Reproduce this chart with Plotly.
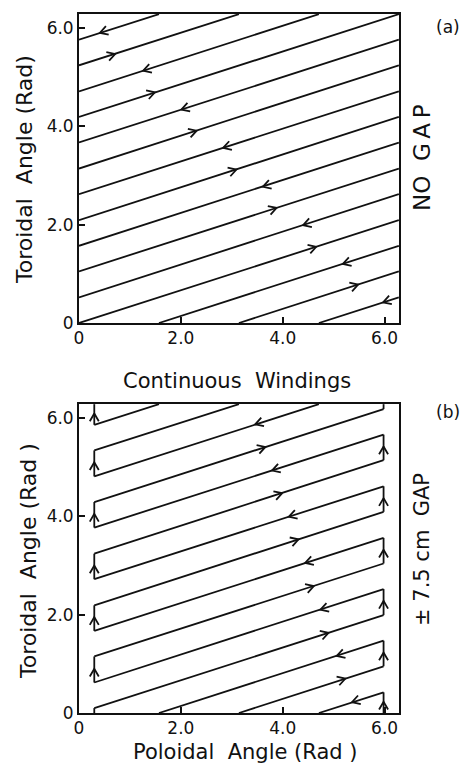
import math
import plotly.graph_objects as go

# ---------------- data (radians) ----------------
TICK_VALS = [0, 2, 4, 6]
TICK_TEXT = ["0", "2.0", "4.0", "6.0"]
AXIS_MAX = 6.283          # both axes run 0 .. 2*pi
WINDING_SLOPE = 1 / 3     # toroidal rise per poloidal radian

# Panel (a) "NO GAP": straight winding segments (poloidal, toroidal) start -> end
a_th0 = [4.71, 3.14, 1.57, 0.00, 0.00, 0.00, 0.00, 0.00, 0.00, 0.00, 0.00, 0.00, 0.00, 0.00, 0.00]
a_ph0 = [0.00, 0.00, 0.00, 0.00, 0.52, 1.05, 1.57, 2.09, 2.62, 3.14, 3.67, 4.19, 4.71, 5.24, 5.76]
a_th1 = [6.28, 6.28, 6.28, 6.28, 6.28, 6.28, 6.28, 6.28, 6.28, 6.28, 6.28, 6.28, 4.71, 3.14, 1.57]
a_ph1 = [0.52, 1.05, 1.57, 2.09, 2.62, 3.14, 3.67, 4.19, 4.71, 5.24, 5.76, 6.28, 6.28, 6.28, 6.28]

# Panel (a) current-direction arrows
a_arr_th = [0.41, 0.71, 1.26, 1.49, 2.01, 2.31, 2.83, 3.09, 3.61, 3.88, 4.40, 4.66, 5.18, 5.48, 5.97]
a_arr_ph = [5.90, 5.47, 5.13, 4.69, 4.34, 3.91, 3.56, 3.12, 2.77, 2.34, 1.99, 1.55, 1.20, 0.78, 0.42]
a_arr_dir = ["left", "right", "left", "right", "left", "right", "left", "right",
             "left", "right", "left", "right", "left", "right", "left"]

# Panel (b) "+/- 7.5 cm GAP": diagonal segments
b_th0 = [4.71, 3.14, 1.57, 0.30, 0.30, 0.30, 0.30, 0.30, 0.30, 0.30, 0.30, 0.30, 0.30, 0.30, 0.30]
b_ph0 = [0.00, 0.00, 0.00, 0.10, 0.62, 1.15, 1.67, 2.19, 2.72, 3.24, 3.77, 4.29, 4.81, 5.34, 5.86]
b_th1 = [5.98, 5.98, 5.98, 5.98, 5.98, 5.98, 5.98, 5.98, 5.98, 5.98, 5.98, 5.98, 4.71, 3.14, 1.57]
b_ph1 = [0.42, 0.95, 1.47, 1.99, 2.52, 3.04, 3.56, 4.09, 4.61, 5.14, 5.66, 6.18, 6.28, 6.28, 6.28]

# Panel (b) vertical connectors at the gap edges
b_left_th = 0.30
b_left_ph0 = [0.00, 0.62, 1.67, 2.72, 3.77, 4.81, 5.86]
b_left_ph1 = [0.10, 1.15, 2.19, 3.24, 4.29, 5.34, 6.28]
b_right_th = 5.98
b_right_ph0 = [0.00, 0.95, 1.99, 3.04, 4.09, 5.14, 6.18]
b_right_ph1 = [0.42, 1.47, 2.52, 3.56, 4.61, 5.66, 6.28]

# Panel (b) arrows
b_arr_th = [3.46, 3.66, 3.79, 3.99, 4.12, 4.31, 4.44, 4.61, 4.74, 4.90, 5.06, 5.23, 5.36,
            0.30, 0.30, 0.30, 0.30, 0.30, 0.30,
            5.98, 5.98, 5.98, 5.98, 5.98, 5.98]
b_arr_ph = [5.87, 5.41, 4.93, 4.47, 3.99, 3.53, 3.05, 2.58, 2.10, 1.63, 1.16, 0.70, 0.22,
            6.09, 5.10, 4.05, 3.00, 1.95, 0.90,
            5.42, 4.37, 3.32, 2.28, 1.23, 0.23]
b_arr_dir = ["left", "right", "left", "right", "left", "right", "left", "right", "left",
             "right", "left", "right", "left",
             "up", "up", "up", "up", "up", "up",
             "up", "up", "up", "up", "up", "up"]

# ---------------- styling / helpers ----------------
INK = "#111111"
FONT = "DejaVu Sans"
PLOT_W, PLOT_H = 320, 309
SX = PLOT_W / AXIS_MAX
SY = PLOT_H / AXIS_MAX


def seg_path(x0, y0, x1, y1):
    xs, ys = [], []
    for a, b, c, d in zip(x0, y0, x1, y1):
        xs += [a, c, None]
        ys += [b, d, None]
    return xs, ys


def dir_angle(d):
    slope_ang = math.degrees(math.atan2(WINDING_SLOPE * SY, SX))
    return {"right": slope_ang, "left": slope_ang + 180, "up": 90}[d]


def chevrons(ths, phs, dirs, arm=9, spread=30):
    xs, ys = [], []
    for th, ph, d in zip(ths, phs, dirs):
        ang = dir_angle(d)
        pts = []
        for s in (1, -1):
            a = math.radians(ang + 180 + s * spread)
            pts.append((th + arm * math.cos(a) / SX, ph + arm * math.sin(a) / SY))
        xs += [pts[0][0], th, pts[1][0], None]
        ys += [pts[0][1], ph, pts[1][1], None]
    return xs, ys


fig = go.Figure()
line_style = dict(color=INK, width=1.8)

# panel (a)
x, y = seg_path(a_th0, a_ph0, a_th1, a_ph1)
fig.add_trace(go.Scatter(x=x, y=y, mode="lines", line=line_style, xaxis="x", yaxis="y",
                         hoverinfo="skip", showlegend=False))
x, y = chevrons(a_arr_th, a_arr_ph, a_arr_dir)
fig.add_trace(go.Scatter(x=x, y=y, mode="lines", line=line_style, xaxis="x", yaxis="y",
                         hoverinfo="skip", showlegend=False))

# panel (b)
x, y = seg_path(b_th0, b_ph0, b_th1, b_ph1)
fig.add_trace(go.Scatter(x=x, y=y, mode="lines", line=line_style, xaxis="x2", yaxis="y2",
                         hoverinfo="skip", showlegend=False))
x, y = seg_path([b_left_th] * len(b_left_ph0), b_left_ph0, [b_left_th] * len(b_left_ph1), b_left_ph1)
fig.add_trace(go.Scatter(x=x, y=y, mode="lines", line=line_style, xaxis="x2", yaxis="y2",
                         hoverinfo="skip", showlegend=False))
x, y = seg_path([b_right_th] * len(b_right_ph0), b_right_ph0, [b_right_th] * len(b_right_ph1), b_right_ph1)
fig.add_trace(go.Scatter(x=x, y=y, mode="lines", line=line_style, xaxis="x2", yaxis="y2",
                         hoverinfo="skip", showlegend=False))
x, y = chevrons(b_arr_th, b_arr_ph, b_arr_dir)
fig.add_trace(go.Scatter(x=x, y=y, mode="lines", line=line_style, xaxis="x2", yaxis="y2",
                         hoverinfo="skip", showlegend=False))

axis_common = dict(
    range=[0, AXIS_MAX], tickvals=TICK_VALS, ticktext=TICK_TEXT,
    showgrid=False, zeroline=False, showline=True, mirror=True,
    linecolor=INK, linewidth=1.8, ticks="inside", ticklen=6, tickwidth=1.5,
    tickcolor=INK, tickfont=dict(family=FONT, size=17, color=INK),
)
x_axis = dict(axis_common, ticklabelstandoff=-1)
y_axis = dict(axis_common, ticklabelstandoff=0)

L_M, R_M, T_M, B_M = 79, 67, 14, 53
FIG_H = 766
inner_h = FIG_H - T_M - B_M
frac = PLOT_H / inner_h

fig.update_layout(
    width=466, height=FIG_H,
    margin=dict(l=L_M, r=R_M, t=T_M, b=B_M),
    paper_bgcolor="white", plot_bgcolor="white",
    xaxis=dict(x_axis, domain=[0, 1], anchor="y"),
    yaxis=dict(y_axis, domain=[1 - frac, 1], anchor="x"),
    xaxis2=dict(x_axis, domain=[0, 1], anchor="y2"),
    yaxis2=dict(y_axis, domain=[0, frac], anchor="x2"),
)


def px_to_paper(px, py):
    return (px - L_M) / PLOT_W, (FIG_H - B_M - py) / inner_h


def add_text(text, px, py, size, angle=0):
    xp, yp = px_to_paper(px, py)
    fig.add_annotation(text=text, x=xp, y=yp, xref="paper", yref="paper",
                       showarrow=False, textangle=angle, xanchor="center", yanchor="middle",
                       font=dict(family=FONT, size=size, color=INK))


add_text("Toroidal  Angle (Rad)", 25, 170, 22, -90)
add_text("Toroidal  Angle (Rad )", 28, 561, 22, -90)
add_text("Continuous  Windings", 237, 381, 21)
add_text("Poloidal  Angle (Rad )", 245, 752, 21)
add_text("(a)", 448, 27, 17)
add_text("(b)", 448, 412, 17)
add_text("NO  G\u2009A\u2009P", 422, 158, 23, -90)
add_text("\u00b1 7.5 cm  GAP", 422, 550, 21, -90)

fig.write_html("out.html")
